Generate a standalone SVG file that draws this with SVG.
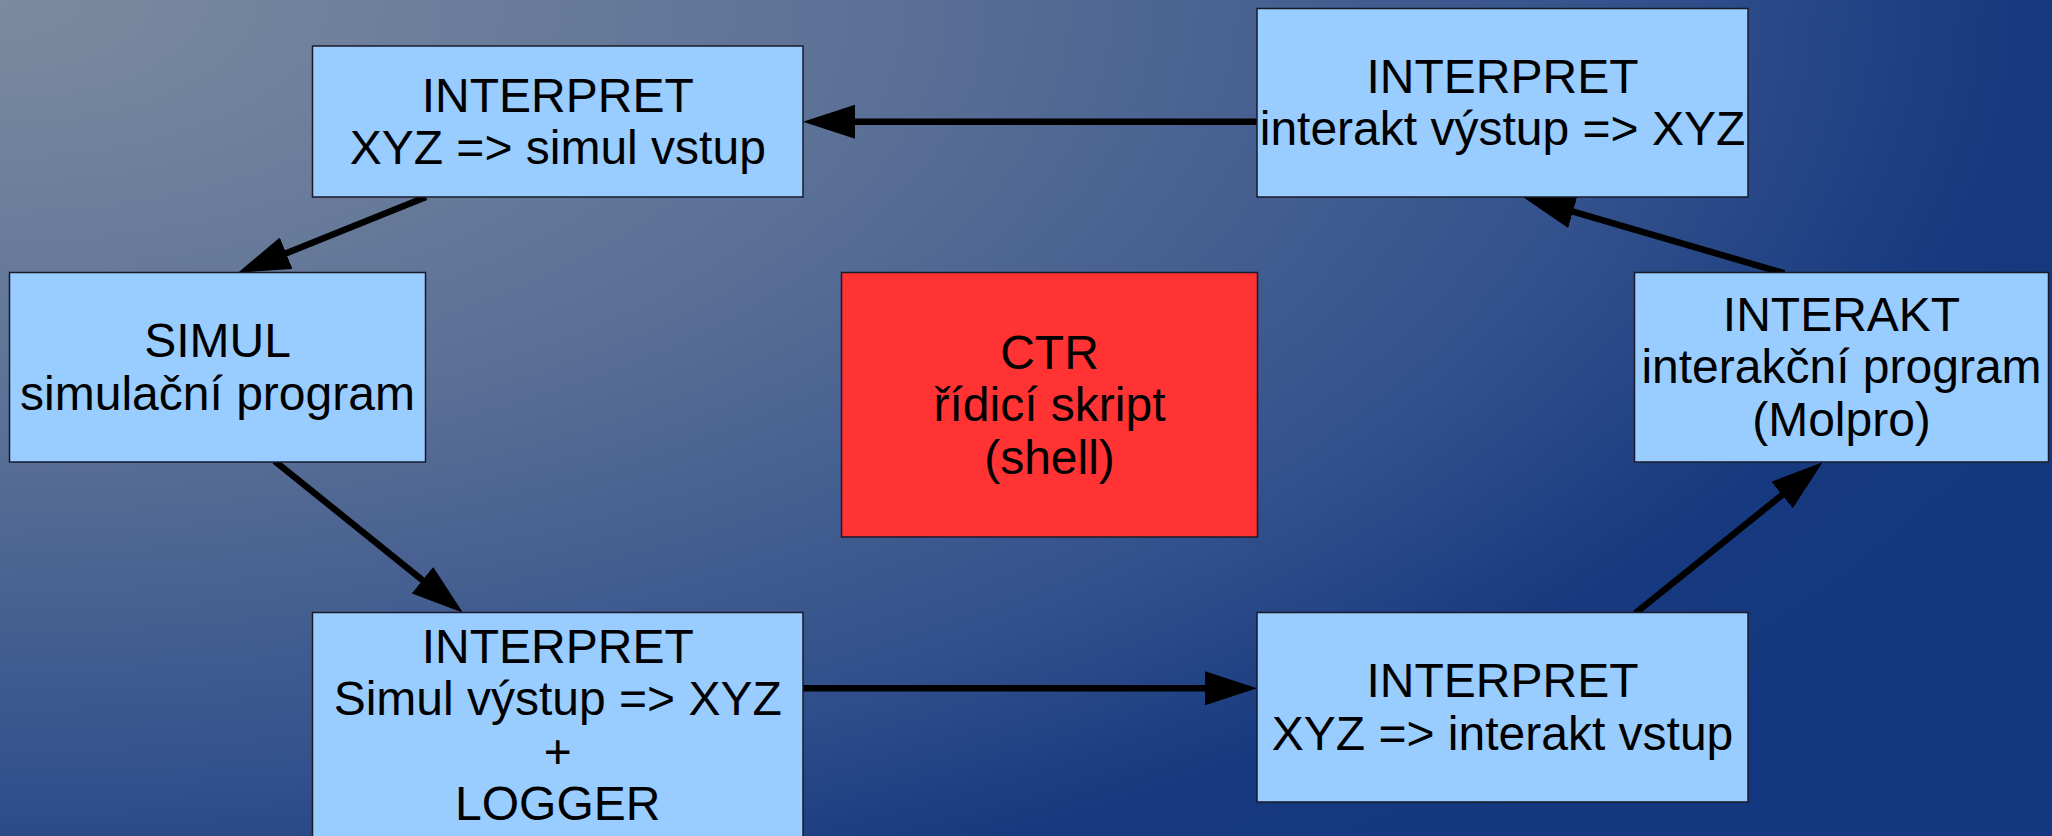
<svg xmlns="http://www.w3.org/2000/svg" width="2052" height="836" viewBox="0 0 2052 836">
  <defs>
    <radialGradient id="bg" gradientUnits="userSpaceOnUse" cx="0" cy="0" r="1" gradientTransform="translate(0 0) scale(2300 1100)">
      <stop offset="0" stop-color="#7b8b9f"/>
      <stop offset="0.39" stop-color="#5b7096"/>
      <stop offset="0.71" stop-color="#33518c"/>
      <stop offset="0.88" stop-color="#16397f"/>
      <stop offset="1" stop-color="#14387f"/>
    </radialGradient>
    <marker id="arrow" markerUnits="userSpaceOnUse" viewBox="0 0 52 34" markerWidth="52" markerHeight="34" refX="32" refY="17" orient="auto">
      <path d="M0,0 L52,17 L0,34 Z" fill="#000"/>
    </marker>
    <style>
      .box { fill: #99ccff; stroke: #1a1a2a; stroke-width: 1.5; }
      .ctr { fill: #ff3333; stroke: #1a1a2a; stroke-width: 1.5; }
      .lbl { font-family: "Liberation Sans", Arial, sans-serif; font-size: 48px; fill: #000; text-anchor: middle; }
      .conn { stroke: #000; stroke-width: 6.5; fill: none; marker-end: url(#arrow); }
    </style>
  </defs>
  <rect x="0" y="0" width="2052" height="836" fill="url(#bg)"/>

  <g id="connectors">
    <line class="conn" x1="1257" y1="121.7" x2="823" y2="121.7"/>
    <line class="conn" x1="426" y1="197" x2="256.5" y2="265.2"/>
    <line class="conn" x1="274.6" y1="461" x2="447.4" y2="600.2"/>
    <line class="conn" x1="803" y1="688.3" x2="1237" y2="688.3"/>
    <line class="conn" x1="1635.3" y1="613.3" x2="1807" y2="474.9"/>
    <line class="conn" x1="1784.4" y1="273.3" x2="1542.2" y2="202.6"/>
  </g>

  <g id="interpret-simul-in">
    <rect class="box" x="312.5" y="46" width="490.5" height="151"/>
    <text class="lbl" x="557.75" y="111.7">INTERPRET</text>
    <text class="lbl" x="557.75" y="164.2">XYZ =&gt; simul vstup</text>
  </g>

  <g id="interpret-interakt-out">
    <rect class="box" x="1257" y="8.5" width="491" height="188.5"/>
    <text class="lbl" x="1502.5" y="92.7">INTERPRET</text>
    <text class="lbl" x="1502.5" y="145.2">interakt výstup =&gt; XYZ</text>
  </g>

  <g id="simul">
    <rect class="box" x="9.5" y="272.5" width="416" height="189.5"/>
    <text class="lbl" x="217.5" y="357">SIMUL</text>
    <text class="lbl" x="217.5" y="409.5">simulační program</text>
  </g>

  <g id="ctr">
    <rect class="ctr" x="841.5" y="272.5" width="416" height="264.5"/>
    <text class="lbl" x="1049.5" y="368.5">CTR</text>
    <text class="lbl" x="1049.5" y="421">řídicí skript</text>
    <text class="lbl" x="1049.5" y="473.5">(shell)</text>
  </g>

  <g id="interakt">
    <rect class="box" x="1634.5" y="272.5" width="414" height="189.5"/>
    <text class="lbl" x="1841.5" y="330.5">INTERAKT</text>
    <text class="lbl" x="1841.5" y="383">interakční program</text>
    <text class="lbl" x="1841.5" y="435.5">(Molpro)</text>
  </g>

  <g id="interpret-simul-out-logger">
    <rect class="box" x="312.5" y="612.5" width="490.5" height="225"/>
    <text class="lbl" x="557.75" y="662.7">INTERPRET</text>
    <text class="lbl" x="557.75" y="715.2">Simul výstup =&gt; XYZ</text>
    <text class="lbl" x="557.75" y="767.7">+</text>
    <text class="lbl" x="557.75" y="820.2">LOGGER</text>
  </g>

  <g id="interpret-interakt-in">
    <rect class="box" x="1257" y="612.5" width="491" height="189.5"/>
    <text class="lbl" x="1502.5" y="697.4">INTERPRET</text>
    <text class="lbl" x="1502.5" y="749.9">XYZ =&gt; interakt vstup</text>
  </g>
</svg>
